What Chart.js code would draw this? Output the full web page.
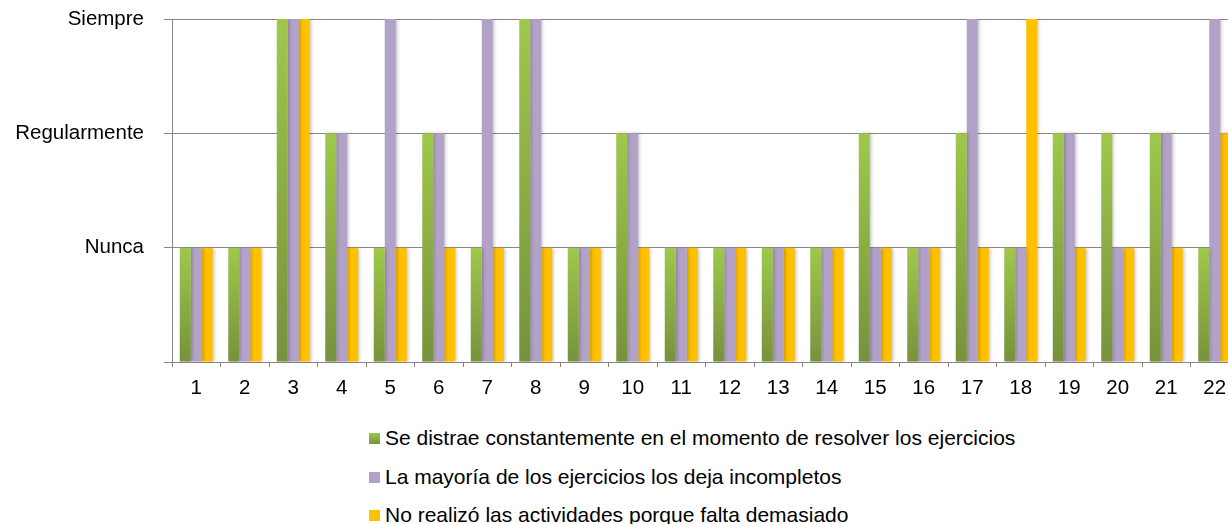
<!DOCTYPE html>
<html>
<head>
<meta charset="utf-8">
<script src="https://cdn.jsdelivr.net/npm/chart.js@4/dist/chart.umd.min.js"></script>
<style>
  html, body { margin: 0; padding: 0; background: #fff; overflow: hidden; width: 1228px; height: 524px; }
  #wrap { position: relative; width: 1239px; height: 400px; }
  #legend { position: absolute; left: 369px; top: 419px; font-family: "Liberation Sans", Arial, sans-serif; font-size: 21px; color: #000; }
  #legend div { height: 38.5px; line-height: 38.5px; white-space: nowrap; }
  #legend span.box { display: inline-block; width: 11px; height: 11px; margin-right: 5px; vertical-align: 1px; }
</style>
</head>
<body>
<div id="wrap"><canvas id="myChart"></canvas></div>
<div id="legend"></div>
<script>
const categories = ['1','2','3','4','5','6','7','8','9','10','11','12','13','14','15','16','17','18','19','20','21','22'];
const levelLabels = ['', 'Nunca', 'Regularmente', 'Siempre'];

const seriesNames = [
  'Se distrae constantemente en el momento de resolver los ejercicios',
  'La mayoría de los ejercicios los deja incompletos',
  'No realizó las actividades porque falta demasiado'
];
const distrae     = [1,1,3,2,1,2,1,3,1,2,1,1,1,1,2,1,2,1,2,2,2,1];
const incompletos = [1,1,3,2,3,2,3,3,1,2,1,1,1,1,1,1,3,1,2,1,2,3];
const noRealizo   = [1,1,3,1,1,1,1,1,1,1,1,1,1,1,1,1,1,3,1,1,1,2];

const gridGray = '#868686';
const tickFont = { family: 'Liberation Sans', size: 20.5 };

// green bars fade from light at the top to dark at the bottom, per bar
function greenFill(ctx) {
  const chart = ctx.chart;
  if (!chart.chartArea || !chart.scales.y || ctx.type !== 'data') return '#8db04a';
  const y = chart.scales.y;
  const top = y.getPixelForValue(ctx.raw);
  const bottom = y.getPixelForValue(0);
  const g = chart.ctx.createLinearGradient(0, top, 0, bottom);
  g.addColorStop(0, '#9fc84b');
  g.addColorStop(1, '#76923c');
  return g;
}

const barShadow = {
  id: 'barShadow',
  beforeDatasetsDraw(chart) {
    const c = chart.ctx;
    c.save();
    c.shadowColor = 'rgba(0,0,0,0.22)';
    c.shadowBlur = 3;
    c.shadowOffsetX = 2;
    c.shadowOffsetY = 0;
  },
  afterDatasetsDraw(chart) {
    chart.ctx.restore();
  }
};

const ctx = document.getElementById('myChart').getContext('2d');
const myChart = new Chart(ctx, {
  type: 'bar',
  data: {
    labels: categories,
    datasets: [
      { label: seriesNames[0], data: distrae, backgroundColor: greenFill, legendColor: 'linear-gradient(#9fc84b, #76923c)' },
      { label: seriesNames[1], data: incompletos, backgroundColor: '#b3a2c7', legendColor: '#b3a2c7' },
      { label: seriesNames[2], data: noRealizo, backgroundColor: '#ffc000', legendColor: '#ffc000' }
    ]
  },
  options: {
    responsive: true,
    maintainAspectRatio: false,
    animation: false,
    layout: { padding: { top: 19, right: 0, bottom: 0, left: 0 } },
    datasets: { bar: { barPercentage: 1, categoryPercentage: 0.68 } },
    plugins: { legend: { display: false }, tooltip: { enabled: false } },
    scales: {
      x: {
        afterFit(scale) { scale.height = 38; },
        grid: { offset: true, drawOnChartArea: false, drawTicks: true, tickLength: 5, color: gridGray },
        border: { color: gridGray, width: 1 },
        ticks: { color: '#000', padding: 9, font: tickFont }
      },
      y: {
        min: 0, max: 3,
        afterFit(scale) {
          scale.width = 172;
          scale.paddingTop = 0;
          scale.paddingBottom = 0;
        },
        ticks: {
          stepSize: 1, color: '#000', padding: 20,
          font: tickFont,
          callback: (v) => levelLabels[v]
        },
        grid: { color: gridGray, tickLength: 8, lineWidth: 1 },
        border: { color: gridGray, width: 1 }
      }
    }
  },
  plugins: [barShadow]
});

const legendEl = document.getElementById('legend');
myChart.data.datasets.forEach((ds) => {
  const row = document.createElement('div');
  const box = document.createElement('span');
  box.className = 'box';
  box.style.background = ds.legendColor;
  row.appendChild(box);
  row.appendChild(document.createTextNode(ds.label));
  legendEl.appendChild(row);
});
</script>
</body>
</html>
